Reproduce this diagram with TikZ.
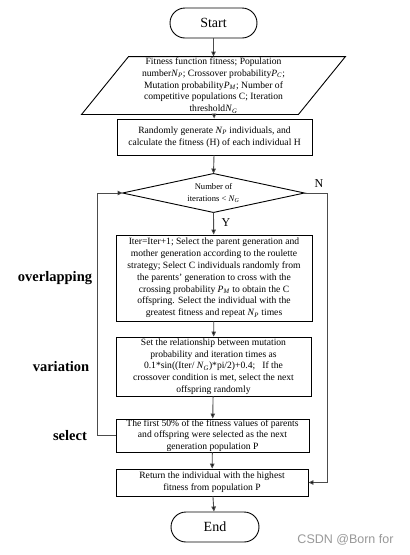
\documentclass[tikz,border=0pt]{standalone}
\usepackage{fontspec}
\setmainfont{Liberation Serif}
\newfontfamily\wmfont{Liberation Sans}
\usetikzlibrary{arrows.meta}
\newcommand{\mvar}[2]{\textit{#1}\textsubscript{\textit{#2}}}
\begin{document}
\begin{tikzpicture}[x=1pt,y=-1pt,
  line/.style={draw=black!70, line width=0.9pt},
  arr/.style={line, -{Triangle[length=5pt,width=4.5pt,fill=black]}},
  box/.style={draw=black, line width=0.9pt, align=center, inner sep=0pt,
    font=\fontsize{9.6}{11.8}\selectfont},
  term/.style={draw=black, line width=0.9pt, rounded corners=15pt, inner sep=0pt,
    minimum width=87pt, minimum height=30pt, font=\fontsize{14}{16}\selectfont},
  side/.style={font=\fontsize{14.5}{16}\selectfont\bfseries},
  yn/.style={font=\fontsize{12}{14}\selectfont}
]
\useasboundingbox (0,0) rectangle (410,555);
\fill[white] (0,0) rectangle (410,555);

\node[term] (start) at (213.5,23) {Start};

\node[box, draw=none, minimum width=263pt, minimum height=57pt] (input) at (213.5,85.5)
  {Fitness function fitness; Population\\
   number\mvar{N}{P}; Crossover probability\mvar{P}{C};\\
   Mutation probability\mvar{P}{M}; Number of\\
   competitive populations C; Iteration\\
   threshold\mvar{N}{G}};
\draw[black, line width=0.9pt] (input.south west) -- ([xshift=-47pt]input.south east)
  -- (input.north east) -- ([xshift=47pt]input.north west) -- cycle;

\node[box, minimum width=195pt, minimum height=36pt] (gen) at (214.5,137)
  {Randomly generate \mvar{N}{P} individuals, and\\
   calculate the fitness (H) of each individual H};

\node[box, draw=none, minimum width=181pt, minimum height=38pt,
  font=\fontsize{8.6}{12.5}\selectfont] (dec) at (213.5,193)
  {Number of\\ iterations < \mvar{N}{G}};
\draw[black, line width=0.9pt] (dec.north) -- (dec.east) -- (dec.south) -- (dec.west) -- cycle;

\node[box, minimum width=196pt, minimum height=86pt] (cross) at (214,278)
  {Iter=Iter+1; Select the parent generation and\\
   mother generation according to the roulette\\
   strategy; Select C individuals randomly from\\
   the parents' generation to cross with the\\
   crossing probability \mvar{P}{M} to obtain the C\\
   offspring. Select the individual with the\\
   greatest fitness and repeat \mvar{N}{P} times};

\node[box, minimum width=195pt, minimum height=59pt] (mut) at (213.5,366.5)
  {Set the relationship between mutation\\
   probability and iteration times as\\
   0.1*sin((Iter/ \mvar{N}{G})*pi/2)+0.4;~~ If the\\
   crossover condition is met, select the next\\
   offspring randomly};

\node[box, minimum width=193pt, minimum height=33pt] (sel) at (212.5,435.5)
  {The first 50\% of the fitness values of parents\\
   and offspring were selected as the next\\
   generation population P};

\node[box, minimum width=192pt, minimum height=27pt] (ret) at (212,482.5)
  {Return the individual with the highest\\
   fitness from population P};

\node[term, minimum width=88pt] (end) at (215,527) {End};

\node[side] (lov) at (55,278) {overlapping};
\node[side] (lva) at (61,367) {variation};
\node[side] (lse) at (70,436) {select};

\node[yn] (ylab) at (226,223) {Y};
\node[yn] (nlab) at (319,184) {N};

\node[font=\wmfont\fontsize{12.5}{14}\selectfont, text=black!40] (wm) at (345.5,540) {CSDN @Born for};

\coordinate (rn) at (327,193);
\coordinate (ln) at (97,193);

\draw[arr] (start) -- (input);
\draw[arr] (input) -- (gen);
\draw[arr] (gen) -- (dec.north);
\draw[arr] (dec.south) -- (cross);
\draw[arr] (cross) -- (mut);
\draw[arr] (mut) -- (sel);
\draw[arr] (sel) -- (ret);
\draw[arr] (ret) -- (end);
\draw[arr] (dec.east) -- (rn) |- (ret.east);
\draw[arr] (sel.west) -| (ln) -- (dec.west);
\end{tikzpicture}
\end{document}
